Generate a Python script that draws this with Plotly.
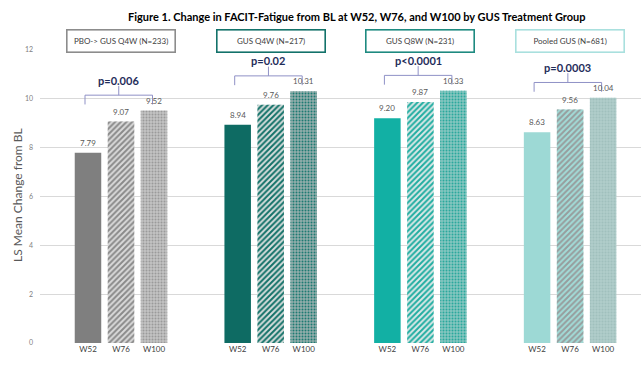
import plotly.graph_objects as go

# ---- data ----
groups = ["PBO-> GUS Q4W (N=233)", "GUS Q4W (N=217)", "GUS Q8W (N=231)", "Pooled GUS (N=681)"]
timepoints = ["W52", "W76", "W100"]
w52 = [7.79, 8.94, 9.20, 8.63]
w76 = [9.07, 9.76, 9.87, 9.56]
w100 = [9.52, 10.31, 10.33, 10.04]
p_values = ["p=0.006", "p=0.02", "p<0.0001", "p=0.0003"]
y_ticks = [0, 2, 4, 6, 8, 10, 12]

# ---- styling ----
FONT = "Lato, 'Open Sans', sans-serif"
W, H = 641, 369
ML, MR, MT, MB = 40, 0, 50, 26
PW, PH = W - ML - MR, H - MT - MB
GROUP_PX = 149.7
OFF = 0.2205
BAR_W = 0.177
X0 = -(121 - ML) / GROUP_PX
X1 = X0 + PW / GROUP_PX


def py(px_from_top):
    """Pixel row (from top of figure) -> paper y."""
    return (MT + PH - px_from_top) / PH


def px(px_from_left):
    return (px_from_left - ML) / PW


group_border = ["#8c8c8c", "#13726a", "#1e8a80", "#a9e0de"]

# per timepoint: base fill and pattern ink per group
styles = {
    "W52": dict(shape="", bg=["#7f7f7f", "#0e6b63", "#12b0a4", "#9dd9d5"],
                fg=["#7f7f7f", "#0e6b63", "#12b0a4", "#9dd9d5"], size=6, solidity=0.3),
    "W76": dict(shape="/", bg=["#dadada", "#d8dedd", "#dde8e7", "#a2dcd8"],
                fg=["#8a8a8a", "#127168", "#1fada1", "#979d9d"], size=4, solidity=0.5),
    "W100": dict(shape=".", bg=["#c2c2c2", "#93aeab", "#86c6bf", "#b0cdca"],
                 fg=["#9a9a9a", "#1d7a72", "#2aa89d", "#a0c0bc"], size=3, solidity=0.35),
}

series = {"W52": w52, "W76": w76, "W100": w100}
offsets = {"W52": -OFF, "W76": 0.0, "W100": OFF}

fig = go.Figure()
annotations = []
tick_pos, tick_txt = [], []
for tp in timepoints:
    st = styles[tp]
    xs = [g + offsets[tp] for g in range(len(groups))]
    tick_pos += xs
    tick_txt += [tp] * len(groups)
    # base fill
    fig.add_trace(go.Bar(
        x=xs, y=series[tp], width=BAR_W, name=tp,
        marker=dict(color=st["bg"], line=dict(width=0)),
        showlegend=False, hoverinfo="skip",
    ))
    # pattern ink on top
    if st["shape"]:
        pat = dict(shape=st["shape"], fgcolor=st["fg"], bgcolor="rgba(0,0,0,0)",
                   fgopacity=1, size=st["size"], solidity=st["solidity"], fillmode="replace")
        fig.add_trace(go.Bar(
            x=xs, y=series[tp], width=BAR_W, name=tp,
            marker=dict(color="rgba(0,0,0,0)", line=dict(width=0), pattern=pat),
            showlegend=False, hoverinfo="skip",
        ))
    # value labels above each bar
    for x, v in zip(xs, series[tp]):
        annotations.append(dict(x=x, y=v, xref="x", yref="y", text=f"{v:.2f}", showarrow=False,
                                xanchor="center", yanchor="bottom", yshift=3,
                                font=dict(family=FONT, size=8, color="#595959")))

shapes = []
BR = "#8f91c6"
for g in range(len(groups)):
    top = max(w52[g], w76[g], w100[g])
    yb = top + 0.63
    xl = g - OFF - 0.02
    xr = g + OFF - 0.01
    xc = (xl + xr) / 2
    for (xa, ya, xb, yb2) in [(xl, yb, xr, yb), (xl, yb, xl, yb - 0.38),
                              (xr, yb, xr, yb - 0.38), (xc, yb, xc, yb + 0.38)]:
        shapes.append(dict(type="line", xref="x", yref="y", x0=xa, y0=ya, x1=xb, y1=yb2,
                           line=dict(color=BR, width=1)))
    annotations.append(dict(x=xc, y=yb + 0.62, xref="x", yref="y", xanchor="center", yanchor="middle",
                            text="<b>" + p_values[g] + "</b>", showarrow=False,
                            font=dict(family=FONT, size=11, color="#1f2d5a")))
    # group header box
    annotations.append(dict(x=g, y=py(40.5), xref="x", yref="paper", xanchor="center", yanchor="middle",
                            text=groups[g], showarrow=False, width=105, height=19,
                            borderpad=1, bordercolor=group_border[g], borderwidth=1.6,
                            bgcolor="white", font=dict(family=FONT, size=8, color="#404040")))

annotations.append(dict(x=px(357), y=py(16), xref="paper", yref="paper", xanchor="center", yanchor="middle",
                        text="<b>Figure 1. Change in FACIT-Fatigue from BL at W52, W76, and W100 by GUS Treatment Group</b>",
                        showarrow=False, font=dict(family=FONT, size=11, color="#000000")))
annotations.append(dict(x=px(17), y=py(195), xref="paper", yref="paper", xanchor="center", yanchor="middle",
                        text="LS Mean Change from BL", textangle=-90, showarrow=False,
                        font=dict(family=FONT, size=12, color="#595959")))

fig.update_layout(
    width=W, height=H, margin=dict(l=ML, r=MR, t=MT, b=MB),
    paper_bgcolor="white", plot_bgcolor="white",
    barmode="overlay", shapes=shapes, annotations=annotations,
    xaxis=dict(range=[X0, X1], tickvals=tick_pos, ticktext=tick_txt, showgrid=False,
               zeroline=False, showline=False, ticks="",
               tickfont=dict(family=FONT, size=8, color="#404040")),
    yaxis=dict(range=[0, 12], tickvals=y_ticks, showgrid=True, gridcolor="#d9d9d9",
               gridwidth=1, zeroline=False, showline=False, ticks="", ticklabelstandoff=6,
               tickfont=dict(family=FONT, size=7, color="#7f7f7f")),
)

fig.write_html("out.html")
